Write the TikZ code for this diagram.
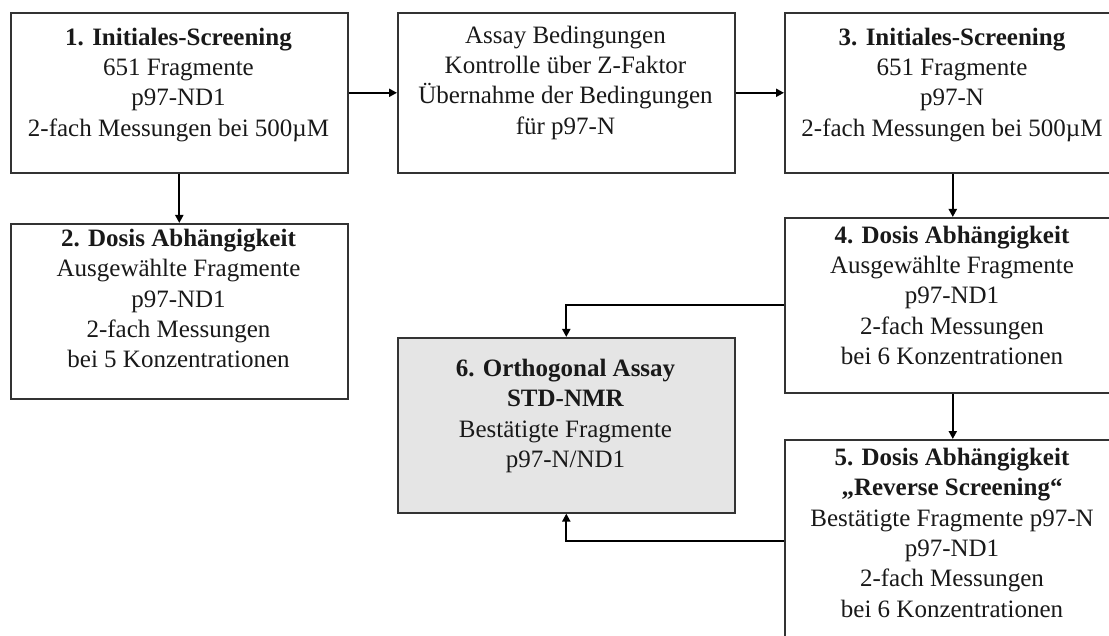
\documentclass[tikz,border=0pt]{standalone}
\usepackage{fontspec}
\setmainfont{Liberation Serif}
\usetikzlibrary{arrows.meta}
\newcommand\firstrule{\rule{0pt}{23pt}}
\begin{document}
\begin{tikzpicture}[x=1pt,y=-1pt,
  box/.style={draw=black!80, line width=1.6pt, anchor=north west, inner sep=0pt, fill=white},
  graybox/.style={box, fill=black!10},
  txt/.style={align=center, inner sep=0pt, anchor=north, text=black!90,
    font=\fontsize{25}{30.4}\selectfont},
  conn/.style={line width=2.2pt, black, -{Triangle[length=8pt,width=8pt]}}]
\useasboundingbox (0,0) rectangle (1109,636);
\clip (0,0) rectangle (1109,636);
\fill[white] (0,0) rectangle (1109,636);

% boxes
\node[box, minimum width=337pt, minimum height=160pt] (b1) at (10,12) {};
\node[box, minimum width=337pt, minimum height=160pt] (ba) at (397,12) {};
\node[box, minimum width=336pt, minimum height=160pt] (b3) at (784,12) {};
\node[box, minimum width=337pt, minimum height=175pt] (b2) at (10,223) {};
\node[box, minimum width=336pt, minimum height=175pt] (b4) at (784,217) {};
\node[graybox, minimum width=337pt, minimum height=175pt] (b6) at (397,337) {};
\node[box, minimum width=336pt, minimum height=202pt] (b5) at (784,439) {};

% texts
\node[txt] (t1) at (178.5,22) {\firstrule\textbf{1. Initiales-Screening}\\651 Fragmente\\p97-ND1\\2-fach Messungen bei 500µM};
\node[txt] (ta) at (565.5,20) {\firstrule Assay Bedingungen\\Kontrolle über Z-Faktor\\Übernahme der Bedingungen\\für p97-N};
\node[txt] (t3) at (952,22) {\firstrule\textbf{3. Initiales-Screening}\\651 Fragmente\\p97-N\\2-fach Messungen bei 500µM};
\node[txt] (t2) at (178.5,223) {\firstrule\textbf{2. Dosis Abhängigkeit}\\Ausgewählte Fragmente\\p97-ND1\\2-fach Messungen\\bei 5 Konzentrationen};
\node[txt] (t4) at (952,220) {\firstrule\textbf{4. Dosis Abhängigkeit}\\Ausgewählte Fragmente\\p97-ND1\\2-fach Messungen\\bei 6 Konzentrationen};
\node[txt] (t6) at (565.5,353) {\firstrule\textbf{6. Orthogonal Assay}\\\textbf{STD-NMR}\\Bestätigte Fragmente\\p97-N/ND1};
\node[txt] (t5) at (952,442) {\firstrule\textbf{5. Dosis Abhängigkeit}\\\textbf{„Reverse Screening“}\\Bestätigte Fragmente p97-N\\p97-ND1\\2-fach Messungen\\bei 6 Konzentrationen};

% connectors
\draw[conn] (b1.east) -- (ba.west);
\draw[conn] (ba.east) -- (b3.west);
\draw[conn] (b1.south) -- (b2.north);
\draw[conn] (b3.south) -- (b4.north);
\draw[conn] (b4.west) -| (b6.north);
\draw[conn] (b4.south) -- (b5.north);
\draw[conn] (b5.west) -| (b6.south);
\end{tikzpicture}
\end{document}
